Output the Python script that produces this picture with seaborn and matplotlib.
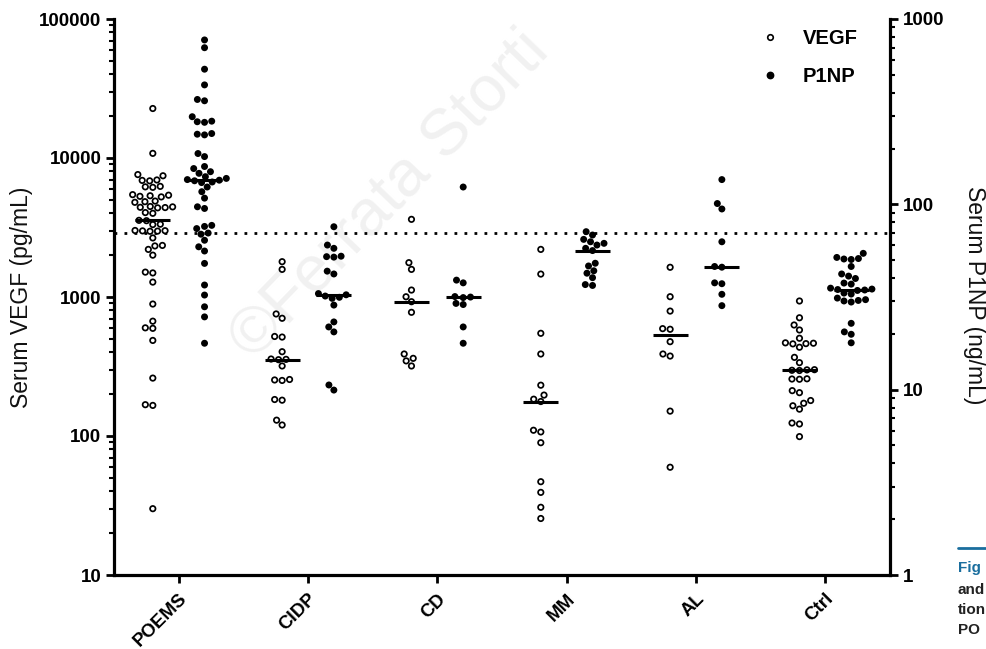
import numpy as np
import pandas as pd
import matplotlib
matplotlib.use("Agg")
import matplotlib.pyplot as plt
import seaborn as sns
from matplotlib.lines import Line2D
from matplotlib.ticker import LogLocator, NullFormatter, FixedLocator

# ---------------- data ----------------
categories = ["POEMS", "CIDP", "CD", "MM", "AL", "Ctrl"]
series = ["VEGF", "P1NP"]

vegf_poems = [22700, 10800, 7600, 7450, 6950, 6900, 6850, 6250, 6200, 6150, 5450, 5400,
              5350, 5300, 5250, 4900, 4850, 4800, 4480, 4450, 4420, 4400, 4380, 4050, 4000,
              3560, 3540, 3340, 3320, 3010, 3000, 2990, 2980, 2970, 2660, 2350, 2330, 2200,
              2000, 1510, 1490, 1280, 890, 670, 600, 595, 487, 261, 168, 166, 30]
vegf_cidp = [1795, 1580, 755, 703, 520, 515, 404, 358, 356, 354, 319, 255, 253, 251,
             183, 181, 130, 120]
vegf_cd = [3620, 1766, 1580, 1122, 1004, 925, 776, 389, 362, 347, 319]
vegf_mm = [2200, 1462, 548, 389, 232, 197, 184, 177, 110, 107, 89.5, 46.9, 39.3, 30.7, 25.5]
vegf_al = [1636, 1005, 792, 592, 586, 477, 389, 376, 151, 59.6]
vegf_ctrl = [936, 709, 629, 579, 505, 468, 465, 462, 460, 435, 368, 337, 300, 299, 297,
             296, 258, 257, 256, 212, 205, 180, 172, 165, 156, 124, 122, 99]

p1np_poems = [771, 700, 536, 441, 368, 362, 297, 281, 279, 277, 241, 239, 237, 188, 181,
              160, 156, 150, 147, 141, 138, 136, 135, 134, 132, 131, 124, 117, 108, 97, 95,
              77, 76, 74, 70, 69, 64, 59, 56, 48, 36.7, 32.4, 28, 24.7, 17.8]
p1np_cidp = [75.7, 60.3, 57.9, 52.5, 52.2, 51.9, 43.6, 42.1, 33.0, 32.5, 32.0, 31.5, 31.1,
             28.6, 23.2, 21.8, 20.5, 10.6, 9.95]
p1np_cd = [124, 39.0, 37.7, 31.8, 31.6, 31.4, 29.2, 28.8, 21.8, 17.8]
p1np_mm = [71.2, 68.3, 64.7, 62.8, 61.6, 60.3, 57.9, 56.3, 48.1, 46.5, 43.8, 42.5, 40.2,
           36.9, 36.5]
p1np_al = [136, 101, 94.4, 62.8, 46.2, 45.8, 37.7, 37.3, 32.7, 28.4]
p1np_ctrl = [54.4, 51.7, 51.0, 50.7, 50.4, 46.2, 42.1, 41.0, 39.8, 37.6, 37.1, 35.3, 34.9,
             34.7, 34.5, 34.3, 33.2, 32.8, 31.2, 30.6, 30.3, 30.1, 29.7, 22.8, 20.5, 19.9,
             17.9]

vegf_ticks = [10, 100, 1000, 10000, 100000]
p1np_ticks = [1, 10, 100, 1000]
vegf_cutoff = 2900

vegf_data = [vegf_poems, vegf_cidp, vegf_cd, vegf_mm, vegf_al, vegf_ctrl]
p1np_data = [p1np_poems, p1np_cidp, p1np_cd, p1np_mm, p1np_al, p1np_ctrl]

df_v = pd.DataFrame([(c, "VEGF", v) for c, vals in zip(categories, vegf_data) for v in vals],
                    columns=["group", "series", "value"])
df_p = pd.DataFrame([(c, "P1NP", v) for c, vals in zip(categories, p1np_data) for v in vals],
                    columns=["group", "series", "value"])

# ---------------- style ----------------
sns.set_theme(style="ticks")
plt.rcParams["font.family"] = ["Liberation Sans", "DejaVu Sans"]
for k in ("text.color", "axes.labelcolor", "xtick.color", "ytick.color", "axes.edgecolor"):
    plt.rcParams[k] = "black"

fig = plt.figure(figsize=(9.87, 6.49), dpi=100)
fig.patch.set_facecolor("white")
ax = fig.add_axes([114 / 987, 1 - 575 / 649, 776 / 987, 556 / 649])
ax.patch.set_visible(False)
ax2 = ax.twinx()

ax.set_yscale("log")
ax.set_ylim(10, 1e5)
ax2.set_yscale("log")
ax2.set_ylim(1, 1000)

# watermark
ax.text(390 / 987, 1 - 195 / 649, "\u00a9Ferrata Storti", transform=fig.transFigure,
        rotation=46, fontsize=47, color="#f1f1f1", ha="center", va="center", zorder=0.2)

ax.axhline(vegf_cutoff, color="black", linestyle=(0, (1, 2.6)), linewidth=2.0, zorder=0.5)

sns.swarmplot(data=df_v, x="group", y="value", hue="series", hue_order=series,
              order=categories, dodge=True, ax=ax, palette={"VEGF": "white", "P1NP": "black"},
              size=3.9, edgecolor="black", linewidth=1.25, legend=False, log_scale=True,
              zorder=3)
sns.swarmplot(data=df_p, x="group", y="value", hue="series", hue_order=series,
              order=categories, dodge=True, ax=ax2, palette={"VEGF": "white", "P1NP": "black"},
              size=5.0, linewidth=0, legend=False, log_scale=True, zorder=3)

# medians
off = 0.2
hw = 0.135
for i, vals in enumerate(vegf_data):
    ax.hlines(np.median(vals), i - off - hw, i - off + hw, color="black", lw=2.2, zorder=4)
for i, vals in enumerate(p1np_data):
    ax2.hlines(np.median(vals), i + off - hw, i + off + hw, color="black", lw=2.2, zorder=4)

ax.set_xlim(-0.5, 5.5)
ax.set_ylim(10, 1e5)
ax2.set_ylim(1, 1000)

# spines
for a in (ax, ax2):
    a.spines["top"].set_visible(False)
    for s in ("left", "bottom", "right"):
        a.spines[s].set_linewidth(2.3)
        a.spines[s].set_color("black")
ax.spines["right"].set_visible(False)
ax2.spines["left"].set_visible(False)
ax2.spines["bottom"].set_visible(False)

tick_font = dict(fontsize=13.5, fontweight="bold")
ax.yaxis.set_major_locator(FixedLocator(vegf_ticks))
ax.yaxis.set_minor_locator(LogLocator(base=10, subs=np.arange(2, 10)))
ax.yaxis.set_minor_formatter(NullFormatter())
ax.set_yticklabels([str(t) for t in vegf_ticks], **tick_font)
ax2.yaxis.set_major_locator(FixedLocator(p1np_ticks))
ax2.yaxis.set_minor_locator(LogLocator(base=10, subs=np.arange(2, 10)))
ax2.yaxis.set_minor_formatter(NullFormatter())
ax2.set_yticklabels([str(t) for t in p1np_ticks], **tick_font)

ax.set_xticks(range(len(categories)))
ax.set_xticklabels(categories, rotation=45, ha="right", rotation_mode="anchor", **tick_font)

ax.tick_params(axis="y", which="major", length=6, width=2, pad=3)
ax.tick_params(axis="y", which="minor", length=3.5, width=1.5)
ax.tick_params(axis="x", which="major", length=6, width=2, pad=5)
ax2.tick_params(axis="y", which="major", length=6, width=2, pad=3)
ax2.tick_params(axis="y", which="minor", length=3.5, width=1.5)

ax.set_xlabel("")
ax.set_ylabel("")
ax2.set_ylabel("")

fig.text(22 / 987, 1 - 297 / 649, "Serum VEGF (pg/mL)", rotation=90, ha="center",
         va="center", fontsize=16.5, color="#111111")
fig.text(975 / 987, 1 - 295 / 649, "Serum P1NP (ng/mL)", rotation=-90, ha="center",
         va="center", fontsize=16.5, color="#111111")

# legend
handles = [Line2D([], [], marker="o", linestyle="none", markersize=4.0, markerfacecolor="white",
                  markeredgecolor="black", markeredgewidth=1.2),
           Line2D([], [], marker="o", linestyle="none", markersize=4.6, markerfacecolor="black",
                  markeredgecolor="black")]
fig.legend(handles, series, loc="upper left", bbox_to_anchor=(750 / 987, 1 - 19 / 649),
           frameon=False, prop=dict(size=14.5, weight="bold"), handlelength=1.0,
           handletextpad=1.1, labelspacing=0.95, borderpad=0)

# cropped page fragments at the bottom right
fig.add_artist(Line2D([958 / 987, 1.0], [1 - 548 / 649, 1 - 548 / 649], color="#1a6e9e",
                      lw=2, transform=fig.transFigure))
frag = dict(fontsize=11, fontweight="bold", ha="left", va="center")
fig.text(958 / 987, 1 - 568 / 649, "Fig", color="#1a6e9e", **frag)
fig.text(958 / 987, 1 - 590 / 649, "and", color="#222222", **frag)
fig.text(958 / 987, 1 - 610 / 649, "tion", color="#222222", **frag)
fig.text(958 / 987, 1 - 630 / 649, "PO", color="#222222", **frag)

fig.savefig("out.png", dpi=100, facecolor="white")
